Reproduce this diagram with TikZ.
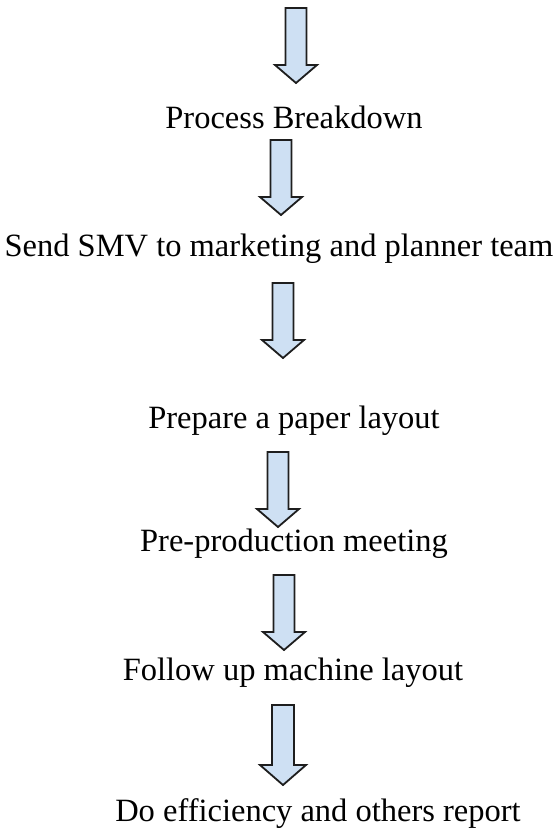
\documentclass[tikz,border=0pt]{standalone}
\usepackage{fontspec}
\setmainfont{Liberation Serif}
\definecolor{arrowblue}{RGB}{206,224,243}
\definecolor{arrowline}{RGB}{30,30,30}
\tikzset{
  lbl/.style={anchor=base, inner sep=0pt, font=\fontsize{32.5}{39}\selectfont},
  barrow/.style={draw=arrowline, line width=1.8pt, fill=arrowblue, line join=miter},
  pics/blockarrow/.style={code={
    \path[barrow] (-10.5,0) -- (10.5,0) -- (10.5,-57) -- (21,-57) -- (0,-75)
      -- (-21,-57) -- (-10.5,-57) -- cycle;
  }},
  pics/bigblockarrow/.style={code={
    \path[barrow] (-11,0) -- (11,0) -- (11,-60) -- (23,-60) -- (0,-80)
      -- (-23,-60) -- (-11,-60) -- cycle;
  }}
}
\begin{document}
\begin{tikzpicture}[x=1pt,y=1pt]
\useasboundingbox (0,0) rectangle (557,-835);
% arrow start points
\coordinate (a1) at (296,-8);
\coordinate (a2) at (281,-140);
\coordinate (a3) at (283,-283);
\coordinate (a4) at (278,-452);
\coordinate (a5) at (284,-575);
\coordinate (a6) at (283,-705);
% labels
\node[lbl] (t1) at (294,-128) {Process Breakdown};
\node[lbl] (t2) at (279,-256) {Send SMV to marketing and planner team};
\node[lbl] (t3) at (294,-428) {Prepare a paper layout};
\node[lbl] (t4) at (294,-551) {Pre-production meeting};
\node[lbl] (t5) at (293,-680) {Follow up machine layout};
\node[lbl] (t6) at (318,-821) {Do efficiency and others report};
% arrows
\pic at (a1) {blockarrow};
\pic at (a2) {blockarrow};
\pic at (a3) {blockarrow};
\pic at (a4) {blockarrow};
\pic at (a5) {blockarrow};
\pic at (a6) {bigblockarrow};
\end{tikzpicture}
\end{document}
